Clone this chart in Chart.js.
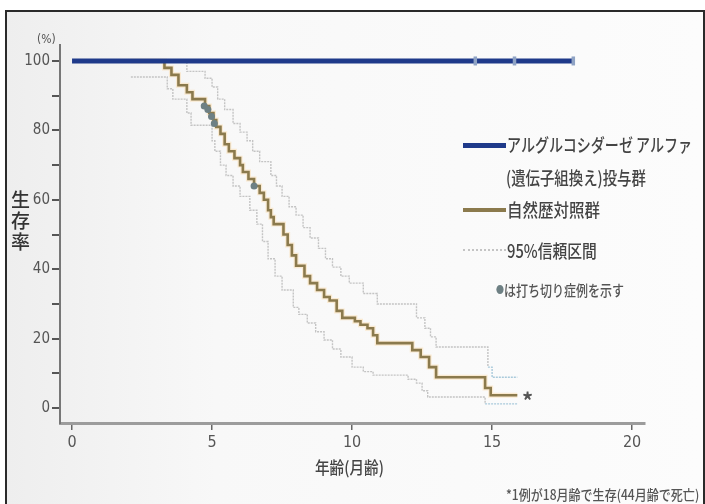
<!DOCTYPE html>
<html>
<head>
<meta charset="utf-8">
<script src="https://cdn.jsdelivr.net/npm/chart.js@4/dist/chart.umd.min.js"></script>
<style>
  body { margin: 0; width: 705px; height: 504px; position: relative; overflow: hidden; background: #fff; }
  #frame { position: absolute; left: 5px; top: 10px; width: 696px; height: 500px;
           border: 2px solid #2a2a2a; border-bottom: none;
           background: linear-gradient(90deg, #eeeeee 0%, #f8f8f8 30%, #fcfcfc 100%); }
  #c { position: absolute; left: 0; top: 0; }
  .jp { position: absolute; font-family: 'Noto Sans CJK JP', sans-serif; color: #444; white-space: nowrap;
        transform-origin: left center; font-weight: 500; }
  .sw { position: absolute; }
</style>
</head>
<body>
<div id="frame"></div>
<canvas id="c" width="705" height="504"></canvas>

<div class="jp" style="left:37px; top:32px; font-size:12px; font-family:'Liberation Sans Narrow','DejaVu Sans Condensed',sans-serif; color:#555;">(%)</div>
<div class="jp" style="left:11px; top:188px; font-size:19px; line-height:21px; width:22px; white-space:normal; color:#333;">生<br>存<br>率</div>
<div class="jp" style="left:315px; top:454px; font-size:17px; transform:scaleX(0.86); color:#444;">年齢(月齢)</div>

<div class="sw" style="left:463px; top:143px; width:43px; height:5px; background:#1f3a8a;"></div>
<div class="jp" style="left:507px; top:132px; font-size:18px; line-height:24px; transform:scaleX(0.78);">アルグルコシダーゼ アルファ</div>
<div class="jp" style="left:506px; top:165px; font-size:18px; line-height:24px; transform:scaleX(0.8);">(遺伝子組換え)投与群</div>
<div class="sw" style="left:463px; top:208px; width:43px; height:4px; background:#8b7a4d;"></div>
<div class="jp" style="left:507px; top:197px; font-size:18px; line-height:24px; transform:scaleX(0.86);">自然歴対照群</div>
<div class="sw" style="left:463px; top:249px; width:43px; height:0; border-top:2px dotted #c4c4c4;"></div>
<div class="jp" style="left:507px; top:238px; font-size:18px; line-height:24px; transform:scaleX(0.82);">95%信頼区間</div>
<div class="jp" style="left:496px; top:280px; font-size:15px; line-height:20px; transform:scaleX(0.8); color:#555;"><span style="color:#6e8084; font-size:10px; vertical-align:2px;">●</span>は打ち切り症例を示す</div>
<div class="jp" style="left:522px; top:386px; font-size:22px; line-height:26px; font-weight:700; color:#555;">*</div>
<div class="jp" style="left:506px; top:485px; font-size:14px; line-height:18px; transform:scaleX(0.86); color:#555;">*1例が18月齢で生存(44月齢で死亡)</div>

<script>
// 投与群 (Kaplan-Meier, months / %)
const trtTime = [0, 17.9];
const trtSurv = [100, 100];
const trtCensorTime = [14.4, 15.8, 17.9];
const trtCensorSurv = [100, 100, 100];

// 自然歴対照群
const nhTime = [2.1, 3.3, 3.55, 3.8, 4.1, 4.3, 4.75, 4.9, 5.05, 5.15, 5.3, 5.45, 5.6, 5.8, 6.0, 6.1, 6.3, 6.5,
  6.7, 6.85, 7.0, 7.1, 7.2, 7.55, 7.7, 7.85, 8.0, 8.3, 8.5, 8.75, 9.0, 9.2, 9.45, 9.65, 10.1, 10.3, 10.55,
  10.75, 10.9, 12.15, 12.45, 12.75, 13.0, 14.75, 14.95, 15.9];
const nhSurv = [100, 98, 96, 93, 91, 89, 87, 85, 83, 81, 79, 76, 74, 72, 70, 68, 66, 64,
  62, 60, 57, 55, 53, 50, 47, 44, 41, 38, 36, 34, 32, 31, 28, 26, 25, 24, 23,
  21, 18.7, 16.7, 14.7, 11.8, 8.9, 5.8, 3.7, 3.7];
const nhCensorTime = [4.72, 4.85, 4.98, 5.08, 6.5];
const nhCensorSurv = [87, 86, 84, 82, 64];

// 95%信頼区間
const upTime = [2.1, 4.1, 4.75, 5.0, 5.2, 5.45, 5.75, 6.0, 6.25, 6.45, 6.7, 7.1, 7.3, 7.5, 7.75, 8.0, 8.25,
  8.5, 8.8, 9.05, 9.3, 9.6, 9.9, 10.4, 10.9, 12.3, 12.6, 12.8, 13.0, 14.85, 15.0, 15.9];
const upSurv = [100, 97, 95, 92.5, 89, 86, 82, 79.5, 77, 74, 71, 67, 64, 61, 58, 55.6, 52,
  49, 46, 43, 40.6, 38, 36, 33, 30, 26, 23, 20.5, 17.6, 11.8, 8.9, 8.9];
const loTime = [2.1, 3.4, 3.6, 4.1, 4.25, 5.0, 5.1, 5.3, 5.5, 5.75, 6.0, 6.35, 6.6, 6.8, 7.0, 7.25, 7.5,
  7.9, 8.1, 8.4, 8.7, 9.0, 9.3, 9.6, 10.0, 10.4, 10.75, 12.0, 12.3, 12.5, 12.7, 14.75, 15.9];
const loSurv = [95.4, 92, 89, 85, 81.5, 77, 74, 70, 67, 64, 61, 57, 53, 48, 43, 38, 34,
  29, 27, 24.5, 22, 19.6, 17, 14.7, 11.8, 10.5, 9.5, 8.3, 7.2, 5, 3.2, 1.2, 1.2];

const xTicks = [0, 5, 10, 15, 20];
const yTickLabels = [0, 20, 40, 60, 80, 100];

const pts = (xs, ys) => xs.map((x, i) => ({ x: x, y: ys[i] }));
const numFont = "'Liberation Sans Narrow', 'DejaVu Sans Condensed', sans-serif";
const ciColor = ctx => ctx.p0.parsed.x >= 14.7 ? '#a9cadb' : '#c4c4c4';

new Chart(document.getElementById('c').getContext('2d'), {
  type: 'line',
  data: {
    datasets: [
      { data: pts(trtCensorTime, trtCensorSurv), showLine: false, pointStyle: 'line', rotation: 90,
        pointRadius: 4.5, pointBorderColor: '#8fa3c4', pointBorderWidth: 3.5 },
      { data: pts(trtTime, trtSurv), borderColor: '#1f3a8a', borderWidth: 5, pointRadius: 0 },
      { data: pts(nhCensorTime, nhCensorSurv), showLine: false, pointStyle: 'circle',
        pointRadius: 3.5, pointBackgroundColor: '#6e8084', pointBorderWidth: 0 },
      { data: pts(nhTime, nhSurv), stepped: true, borderColor: '#8b7a4d', borderWidth: 2.6, pointRadius: 0 },
      { data: pts(nhTime, nhSurv), stepped: true, borderColor: 'rgba(250,215,160,0.45)', borderWidth: 5, pointRadius: 0 },
      { data: pts(upTime, upSurv), stepped: true, borderColor: '#c4c4c4', borderWidth: 1.4,
        borderDash: [2, 1], pointRadius: 0, segment: { borderColor: ciColor } },
      { data: pts(loTime, loSurv), stepped: true, borderColor: '#c4c4c4', borderWidth: 1.4,
        borderDash: [2, 1], pointRadius: 0, segment: { borderColor: ciColor } }
    ]
  },
  options: {
    responsive: false,
    animation: false,
    devicePixelRatio: 1,
    layout: { padding: { top: 45, right: 60, left: 0, bottom: 0 } },
    plugins: { legend: { display: false }, tooltip: { enabled: false } },
    scales: {
      x: {
        type: 'linear', min: -0.43, max: 20.46,
        border: { color: '#9c9c9c', width: 3 },
        grid: { drawOnChartArea: false, color: '#666', tickLength: 7, lineWidth: 1.5 },
        afterBuildTicks: s => { s.ticks = xTicks.map(v => ({ value: v })); },
        ticks: { color: '#555', font: { family: numFont, size: 16 }, padding: 3, maxRotation: 0 },
        afterFit: s => { s.height = 81; }
      },
      y: {
        min: -4.3, max: 104.6,
        border: { color: '#777', width: 2 },
        grid: { drawOnChartArea: false, color: '#555', tickLength: 8, lineWidth: 2 },
        ticks: { stepSize: 10, includeBounds: false, color: '#555', font: { family: numFont, size: 15 }, padding: 2,
          callback: v => yTickLabels.includes(v) ? String(v) : '' },
        afterFit: s => { s.width = 60; }
      }
    }
  }
});
</script>
</body>
</html>
